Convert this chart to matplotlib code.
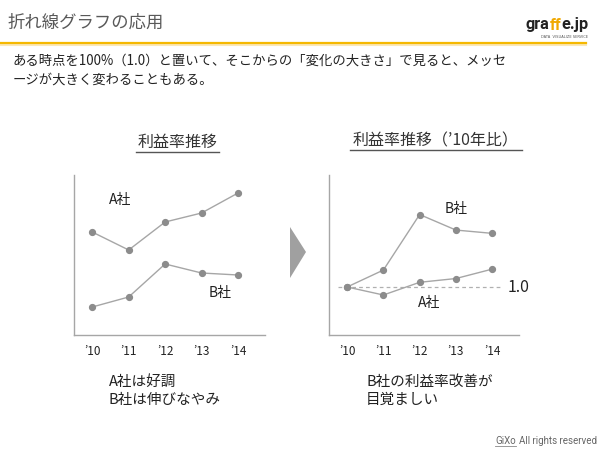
import matplotlib
matplotlib.use("Agg")
import matplotlib.pyplot as plt
import matplotlib.patches as patches
from matplotlib.lines import Line2D

plt.rcParams["font.family"] = ["Noto Sans CJK JP", "DejaVu Sans"]

W, H = 600, 449

# data
years = ["’10", "’11", "’12", "’13", "’14"]
profit_a = [10.3, 8.5, 11.3, 12.2, 14.2]
profit_b = [2.8, 3.8, 7.1, 6.2, 6.0]
ratio_a = [1.0, 0.83, 1.10, 1.18, 1.38]
ratio_b = [1.0, 1.36, 2.54, 2.21, 2.14]

title_main = "折れ線グラフの応用"
body_lines = [
    "ある時点を100%（1.0）と置いて、そこからの「変化の大きさ」で見ると、メッセ",
    "ージが大きく変わることもある。",
]
left_title = "利益率推移"
right_title = "利益率推移（’10年比）"
left_note = ["A社は好調", "B社は伸びなやみ"]
right_note = ["B社の利益率改善が", "目覚ましい"]

line_col = "#a6a6a6"
dot_col = "#8c8c8c"
spine_col = "#a6a6a6"
text_col = "#222222"


def fx(px):
    return px / W


def fy(py):
    return 1 - py / H


fig = plt.figure(figsize=(6, 4.49), dpi=100)
renderer = fig.canvas.get_renderer()


def px_width(t):
    return t.get_window_extent(renderer).width * W / fig.bbox.width


def draw_series(ax, vals):
    ax.plot(range(len(vals)), vals, color=line_col, lw=1.0,
            marker="o", markersize=4.2, markerfacecolor=dot_col,
            markeredgecolor=dot_col, zorder=3)


def style_axes(ax):
    for s in ["top", "right"]:
        ax.spines[s].set_visible(False)
    for s in ["left", "bottom"]:
        ax.spines[s].set_color(spine_col)
        ax.spines[s].set_linewidth(1.0)
    ax.set_xlim(-0.5, 4.74)
    ax.set_xticks(range(len(years)))
    ax.set_xticklabels(years, fontsize=8.5, color=text_col)
    ax.tick_params(axis="x", length=0, pad=7)
    ax.set_yticks([])
    ax.patch.set_alpha(0)


# left chart
ax1 = fig.add_axes([fx(74), fy(335), fx(265) - fx(74), fy(175) - fy(335)])
draw_series(ax1, profit_a)
draw_series(ax1, profit_b)
ax1.set_ylim(0, 16)
style_axes(ax1)
ax1.text(0.77, 13.5, "A社", fontsize=10, ha="center", va="center", color=text_col)
ax1.text(3.5, 4.2, "B社", fontsize=10, ha="center", va="center", color=text_col)

# right chart
ax2 = fig.add_axes([fx(329), fy(335), fx(519) - fx(329), fy(175) - fy(335)])
ax2.plot([-0.25, 4.3], [1.0, 1.0], ls=(0, (3, 2.5)), color="#b0b0b0", lw=0.9, zorder=1)
draw_series(ax2, ratio_a)
draw_series(ax2, ratio_b)
ax2.set_ylim(-0.02, 3.38)
style_axes(ax2)
ax2.text(3.0, 2.66, "B社", fontsize=10, ha="center", va="center", color=text_col)
ax2.text(2.26, 0.66, "A社", fontsize=10, ha="center", va="center", color=text_col)
ax2.text(4.43, 1.0, "1.0", fontsize=11.5, ha="left", va="center", color=text_col)

# chart titles with underline
fig.text(fx(178), fy(142), left_title, fontsize=11.5, ha="center", va="center", color="#333333")
fig.add_artist(Line2D([fx(136), fx(219)], [fy(152), fy(152)], color="#555555", lw=1.0))
fig.text(fx(436), fy(141), right_title, fontsize=11.5, ha="center", va="center", color="#333333")
fig.add_artist(Line2D([fx(350), fx(522)], [fy(150), fy(150)], color="#555555", lw=1.0))

# arrow between charts
fig.add_artist(patches.Polygon(
    [(fx(290), fy(227)), (fx(306), fy(252)), (fx(290), fy(278))],
    closed=True, facecolor="#a0a0a0", edgecolor="none", transform=fig.transFigure))

# header
fig.text(fx(8), fy(23), title_main, fontsize=12.5, ha="left", va="center", color="#595959")
fig.add_artist(Line2D([0, fx(586)], [fy(45), fy(45)], color="#fbe8b8", lw=1.5))
fig.add_artist(Line2D([0, fx(586)], [fy(43), fy(43)], color="#f5b800", lw=1.6))

for i, ln in enumerate(body_lines):
    fig.text(fx(13), fy(61 + 19 * i), ln, fontsize=9.6, ha="left", va="center", color=text_col)

# notes under the charts
for i, ln in enumerate(left_note):
    fig.text(fx(109), fy(382 + 18 * i), ln, fontsize=10.5, ha="left", va="center", color=text_col)
for i, ln in enumerate(right_note):
    fig.text(fx(366), fy(382 + 18 * i), ln, fontsize=10.5, ha="left", va="center", color=text_col)

# logo pieces placed one after another, sized to fit 526..589 px
logo_parts = [("gra", "#222222"), ("ff", "#f0a800"), ("e.jp", "#222222")]
probe = fig.text(0, 0, "graffe.jp", fontsize=10, fontweight="bold", family=["Roboto", "DejaVu Sans"])
logo_fs = 10 * 63 / px_width(probe)
probe.remove()
x = 526
for part, col in logo_parts:
    t = fig.text(fx(x), fy(25), part, fontsize=logo_fs, fontweight="bold", ha="left",
                 va="center", color=col, family=["Roboto", "DejaVu Sans"])
    x += px_width(t)
fig.text(fx(588), fy(37), "DATA  VISUALIZE SERVICE", fontsize=2.6, ha="right",
         va="center", color="#555555", family=["DejaVu Sans"])

# footer, right aligned at the edge
rest = fig.text(fx(597), fy(441), "All rights reserved", fontsize=7, ha="right",
                va="center", color="#666666", family=["Roboto", "DejaVu Sans"])
gx1 = 597 - px_width(rest) - 3
gt = fig.text(fx(gx1), fy(441), "GiXo", fontsize=7, ha="right", va="center",
              color="#666666", family=["Roboto", "DejaVu Sans"])
gx0 = gx1 - px_width(gt)
fig.add_artist(Line2D([fx(gx0), fx(gx1)], [fy(446), fy(446)], color="#888888", lw=0.6))

fig.savefig("out.png", dpi=100)
